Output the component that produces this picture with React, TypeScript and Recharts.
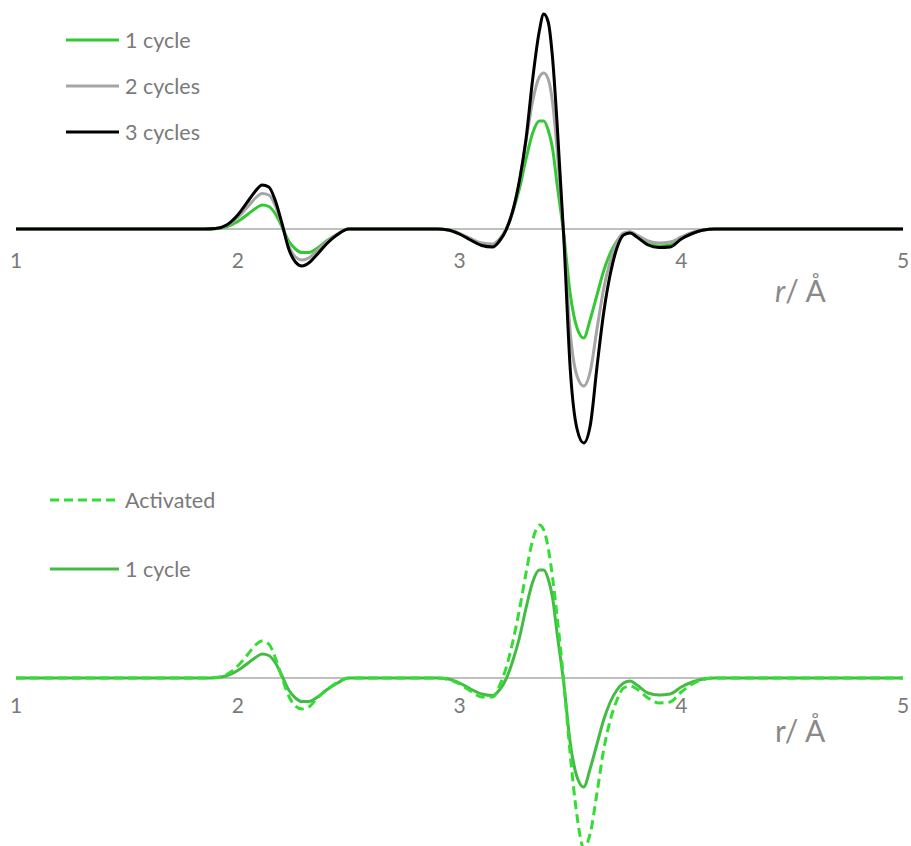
import { LineChart, Line, XAxis, YAxis, ReferenceLine, ReferenceDot, Legend } from "recharts"

// r grid (Å), dense only where the signal is non-zero
const rValues = [
  1,
  1.85, 1.9, 1.95, 2.0, 2.05, 2.08, 2.11, 2.14, 2.17, 2.2, 2.23, 2.26, 2.29, 2.32, 2.36, 2.4, 2.45, 2.5,
  2.9, 2.95, 3.0, 3.05, 3.1, 3.15, 3.18, 3.21, 3.24, 3.27, 3.3, 3.33, 3.36, 3.38, 3.4, 3.42, 3.44, 3.47,
  3.5, 3.53, 3.56, 3.59, 3.62, 3.65, 3.68, 3.71, 3.74, 3.77, 3.8, 3.85, 3.9, 3.95, 4.0, 4.05, 4.1, 4.15,
  5,
]

const oneCycle = [
  0,
  0, 0.003, 0.022, 0.075, 0.155, 0.205, 0.24, 0.225, 0.15, 0.02, -0.12, -0.2, -0.235, -0.235, -0.19, -0.12, -0.05, 0,
  0, -0.01, -0.05, -0.11, -0.16, -0.175, -0.12, -0.01, 0.17, 0.4, 0.7, 0.96, 1.08, 1.08, 0.99, 0.8, 0.45, -0.05,
  -0.66, -0.99, -1.09, -0.9, -0.66, -0.42, -0.24, -0.12, -0.05, -0.03, -0.07, -0.15, -0.17, -0.16, -0.09, -0.04, -0.01, 0,
  0,
]

const twoCycles = [
  0,
  0, 0.004, 0.033, 0.115, 0.235, 0.31, 0.355, 0.34, 0.23, 0.04, -0.17, -0.28, -0.31, -0.29, -0.21, -0.13, -0.05, 0,
  0, -0.01, -0.045, -0.095, -0.14, -0.15, -0.1, 0, 0.18, 0.47, 0.88, 1.28, 1.52, 1.56, 1.5, 1.26, 0.8, -0.06,
  -1.05, -1.47, -1.57, -1.42, -1.0, -0.6, -0.32, -0.13, -0.04, -0.03, -0.06, -0.12, -0.14, -0.13, -0.08, -0.035, -0.01, 0,
  0,
]

const threeCycles = [
  0,
  0, 0.005, 0.04, 0.14, 0.29, 0.38, 0.44, 0.42, 0.28, 0.05, -0.2, -0.33, -0.37, -0.34, -0.25, -0.15, -0.055, 0,
  0, -0.01, -0.05, -0.11, -0.165, -0.18, -0.12, -0.01, 0.18, 0.48, 0.9, 1.5, 1.98, 2.15, 2.07, 1.7, 1.06, -0.07,
  -1.42, -2.0, -2.14, -1.96, -1.38, -0.84, -0.45, -0.19, -0.06, -0.04, -0.08, -0.16, -0.185, -0.18, -0.1, -0.045, -0.01, 0,
  0,
]

const activated = [
  0,
  0, 0.005, 0.035, 0.12, 0.25, 0.33, 0.37, 0.34, 0.2, 0.0, -0.18, -0.28, -0.31, -0.29, -0.2, -0.12, -0.045, 0,
  0, -0.015, -0.06, -0.13, -0.19, -0.19, -0.08, 0.1, 0.36, 0.68, 1.05, 1.38, 1.53, 1.48, 1.3, 1.0, 0.62, -0.03,
  -0.78, -1.38, -1.7, -1.55, -1.15, -0.72, -0.42, -0.22, -0.1, -0.08, -0.11, -0.2, -0.25, -0.24, -0.14, -0.06, -0.015, 0,
  0,
]

const rTicks = [1, 2, 3, 4, 5]

const topData = rValues.map((r, i) => ({ r, c1: oneCycle[i], c2: twoCycles[i], c3: threeCycles[i] }))
const bottomData = rValues.map((r, i) => ({ r, act: activated[i], c1: oneCycle[i] }))

const FONT = "Lato, 'Open Sans', sans-serif"
const TEXT = "#7a7a7a"

type Item = { name: string; color: string; dash?: string }

const topItems: Item[] = [
  { name: "1 cycle", color: "#34c934" },
  { name: "2 cycles", color: "#a5a5a5" },
  { name: "3 cycles", color: "#000000" },
]
const bottomItems: Item[] = [
  { name: "Activated", color: "#33dd33", dash: "9 5" },
  { name: "1 cycle", color: "#44bb44" },
]

function LegendRows({ items, lineW, gap }: { items: Item[]; lineW: number; gap: number }) {
  return (
    <div style={{ fontFamily: FONT, fontSize: 21.5, color: TEXT }}>
      {items.map((it, i) => (
        <div key={i} style={{ display: "flex", alignItems: "center", height: 24, marginBottom: gap }}>
          <svg width={lineW} height={6} style={{ marginRight: 6 }}>
            <line x1={0} y1={3} x2={lineW} y2={3} stroke={it.color} strokeWidth={3} strokeDasharray={it.dash} />
          </svg>
          <span>{it.name}</span>
        </div>
      ))}
    </div>
  )
}

function tickDots(offset: number) {
  return rTicks.map((t) => (
    <ReferenceDot
      key={t}
      x={t}
      y={0}
      r={0}
      fill="none"
      stroke="none"
      label={{ value: String(t), position: "bottom", offset, fill: TEXT, fontSize: 21, fontFamily: FONT }}
    />
  ))
}

function AxisTitle({ top, italic }: { top: number; italic: boolean }) {
  return (
    <div
      style={{
        position: "absolute",
        left: 775,
        top,
        fontFamily: FONT,
        fontSize: 30,
        lineHeight: "30px",
        color: "#8a8a8a",
        whiteSpace: "nowrap",
      }}
    >
      <span style={{ fontStyle: italic ? "italic" : "normal" }}>r</span>/ Å
    </div>
  )
}

export default function App() {
  return (
    <div style={{ position: "absolute", left: 0, top: 0, width: 911, height: 846, overflow: "hidden", background: "#fff" }}>
      <div style={{ position: "absolute", left: 0, top: 0 }}>
        <LineChart width={911} height={458} data={topData} margin={{ top: 0, right: 8, bottom: 0, left: 16 }}>
          <XAxis dataKey="r" type="number" domain={[1, 5]} hide />
          <YAxis type="number" domain={[-2.29, 2.29]} hide allowDataOverflow />
          <ReferenceLine y={0} stroke="#bfbfbf" strokeWidth={2} />
          <Line type="monotone" dataKey="c1" name="1 cycle" stroke="#34c934" strokeWidth={3} dot={false} isAnimationActive={false} />
          <Line type="monotone" dataKey="c2" name="2 cycles" stroke="#a5a5a5" strokeWidth={3} dot={false} isAnimationActive={false} />
          <Line type="monotone" dataKey="c3" name="3 cycles" stroke="#000000" strokeWidth={3} dot={false} isAnimationActive={false} />
          {tickDots(24)}
          <Legend
            layout="vertical"
            align="center"
            verticalAlign="middle"
            wrapperStyle={{ top: 28, left: 66, width: 220 }}
            content={() => <LegendRows items={topItems} lineW={53} gap={22} />}
          />
        </LineChart>
        <AxisTitle top={275} italic />
      </div>
      <div style={{ position: "absolute", left: 0, top: 470 }}>
        <LineChart width={911} height={416} data={bottomData} margin={{ top: 0, right: 8, bottom: 0, left: 16 }}>
          <XAxis dataKey="r" type="number" domain={[1, 5]} hide />
          <YAxis type="number" domain={[-2.08, 2.08]} hide allowDataOverflow />
          <ReferenceLine y={0} stroke="#bfbfbf" strokeWidth={2} />
          <Line type="monotone" dataKey="c1" name="1 cycle" stroke="#44bb44" strokeWidth={3} dot={false} isAnimationActive={false} />
          <Line type="monotone" dataKey="act" name="Activated" stroke="#33dd33" strokeWidth={3} strokeDasharray="9 5" dot={false} isAnimationActive={false} />
          {tickDots(20)}
          <Legend
            layout="vertical"
            align="center"
            verticalAlign="middle"
            wrapperStyle={{ top: 18, left: 50, width: 240 }}
            content={() => <LegendRows items={bottomItems} lineW={69} gap={45} />}
          />
        </LineChart>
        <AxisTitle top={245} italic={false} />
      </div>
    </div>
  )
}
